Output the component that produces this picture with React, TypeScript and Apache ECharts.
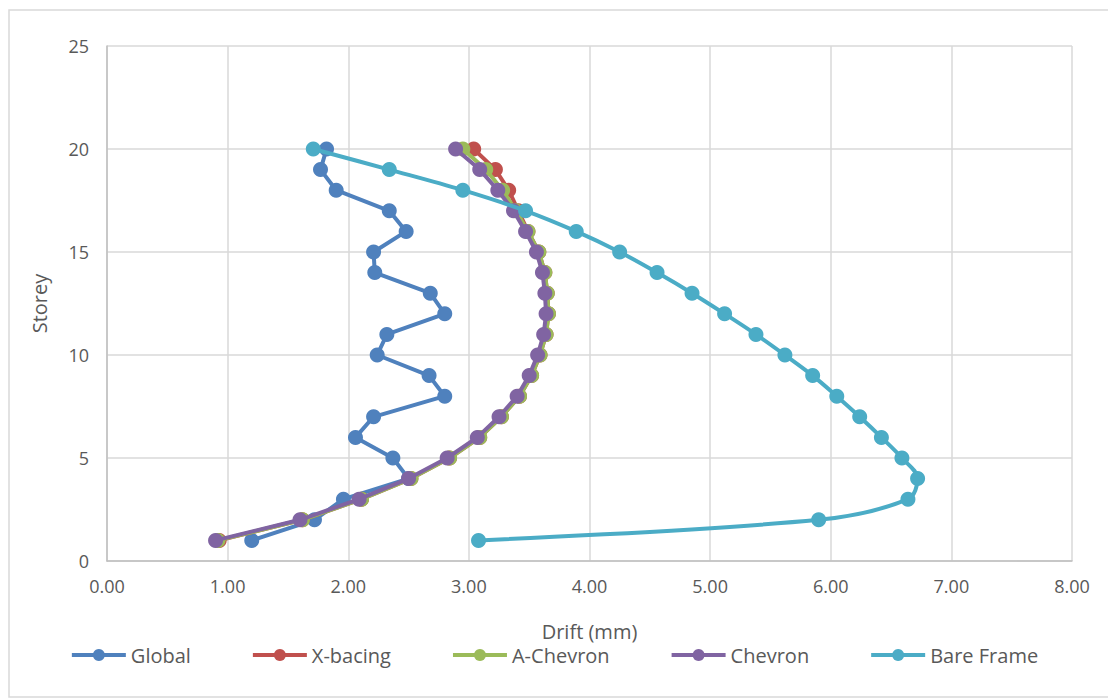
import React, { useEffect, useRef } from "react";
import * as echarts from "echarts";

const storeys = [1, 2, 3, 4, 5, 6, 7, 8, 9, 10, 11, 12, 13, 14, 15, 16, 17, 18, 19, 20];
const globalDrift = [1.2, 1.72, 1.96, 2.5, 2.37, 2.06, 2.21, 2.8, 2.67, 2.24, 2.32, 2.8, 2.68, 2.22, 2.21, 2.48, 2.34, 1.9, 1.77, 1.82];
const xBracingDrift = [0.93, 1.62, 2.11, 2.52, 2.84, 3.09, 3.27, 3.42, 3.52, 3.59, 3.64, 3.66, 3.65, 3.63, 3.58, 3.49, 3.41, 3.33, 3.22, 3.04];
const aChevronDrift = [0.92, 1.62, 2.11, 2.52, 2.84, 3.09, 3.27, 3.42, 3.52, 3.59, 3.64, 3.66, 3.65, 3.63, 3.58, 3.49, 3.39, 3.28, 3.14, 2.95];
const chevronDrift = [0.9, 1.6, 2.09, 2.5, 2.82, 3.07, 3.25, 3.4, 3.5, 3.57, 3.62, 3.64, 3.63, 3.61, 3.56, 3.47, 3.37, 3.24, 3.09, 2.89];
const bareFrameDrift = [3.08, 5.9, 6.64, 6.72, 6.59, 6.42, 6.24, 6.05, 5.85, 5.62, 5.38, 5.12, 4.85, 4.56, 4.25, 3.89, 3.47, 2.95, 2.34, 1.71];

const seriesNames = ["Global", "X-bacing", "A-Chevron", "Chevron", "Bare Frame"];
const seriesColors = ["#4F81BD", "#C0504D", "#9BBB59", "#8064A2", "#4BACC6"];
const seriesValues = [globalDrift, xBracingDrift, aChevronDrift, chevronDrift, bareFrameDrift];
const seriesSmooth = [false, false, false, false, 0.35];

const FONT = "'Open Sans', 'Noto Sans', sans-serif";

export default function App() {
  const ref = useRef<HTMLDivElement>(null);
  useEffect(() => {
    document.body.style.margin = "0";
    if (!ref.current) return;
    const chart = echarts.init(ref.current, null, { renderer: "svg" });
    chart.setOption({
      animation: false,
      backgroundColor: "#ffffff",
      textStyle: { fontFamily: FONT },
      graphic: [
        {
          type: "rect",
          shape: { x: 9, y: 10, width: 1200, height: 687 },
          style: { fill: "none", stroke: "#D9D9D9", lineWidth: 1.5 },
          silent: true,
        },
      ],
      grid: { left: 107, right: 36, top: 46, bottom: 137 },
      legend: {
        bottom: 28,
        left: "center",
        itemWidth: 54,
        itemHeight: 15,
        itemGap: 60,
        data: seriesNames,
        lineStyle: { width: 4 },
        textStyle: { fontFamily: FONT, fontSize: 20, color: "#595959" },
      },
      xAxis: {
        type: "value",
        min: 0,
        max: 8,
        interval: 1,
        name: "Drift (mm)",
        nameLocation: "middle",
        nameGap: 60,
        nameTextStyle: { fontFamily: FONT, fontSize: 20, color: "#595959" },
        axisLine: { show: true, lineStyle: { color: "#BFBFBF", width: 1.5 } },
        axisTick: { show: false },
        axisLabel: {
          margin: 16,
          fontFamily: FONT,
          fontSize: 18,
          color: "#595959",
          formatter: (v: number) => v.toFixed(2),
        },
        splitLine: { show: true, lineStyle: { color: "#D9D9D9", width: 1.5 } },
      },
      yAxis: {
        type: "value",
        min: 0,
        max: 25,
        interval: 5,
        name: "Storey",
        nameLocation: "middle",
        nameGap: 58,
        nameRotate: 90,
        nameTextStyle: { fontFamily: FONT, fontSize: 20, color: "#595959" },
        axisLine: { show: true, lineStyle: { color: "#BFBFBF", width: 1.5 } },
        axisTick: { show: false },
        axisLabel: { margin: 18, fontFamily: FONT, fontSize: 18, color: "#595959" },
        splitLine: { show: true, lineStyle: { color: "#D9D9D9", width: 1.5 } },
      },
      series: seriesNames.map((name, i) => ({
        name,
        type: "line",
        data: seriesValues[i].map((v, k) => [v, storeys[k]]),
        smooth: seriesSmooth[i],
        symbol: "circle",
        symbolSize: 15,
        showSymbol: true,
        color: seriesColors[i],
        lineStyle: { width: 4, color: seriesColors[i] },
        itemStyle: { color: seriesColors[i] },
        z: 2 + i,
      })),
    });
    return () => chart.dispose();
  }, []);
  return <div ref={ref} style={{ width: 1108, height: 698 }} />;
}
